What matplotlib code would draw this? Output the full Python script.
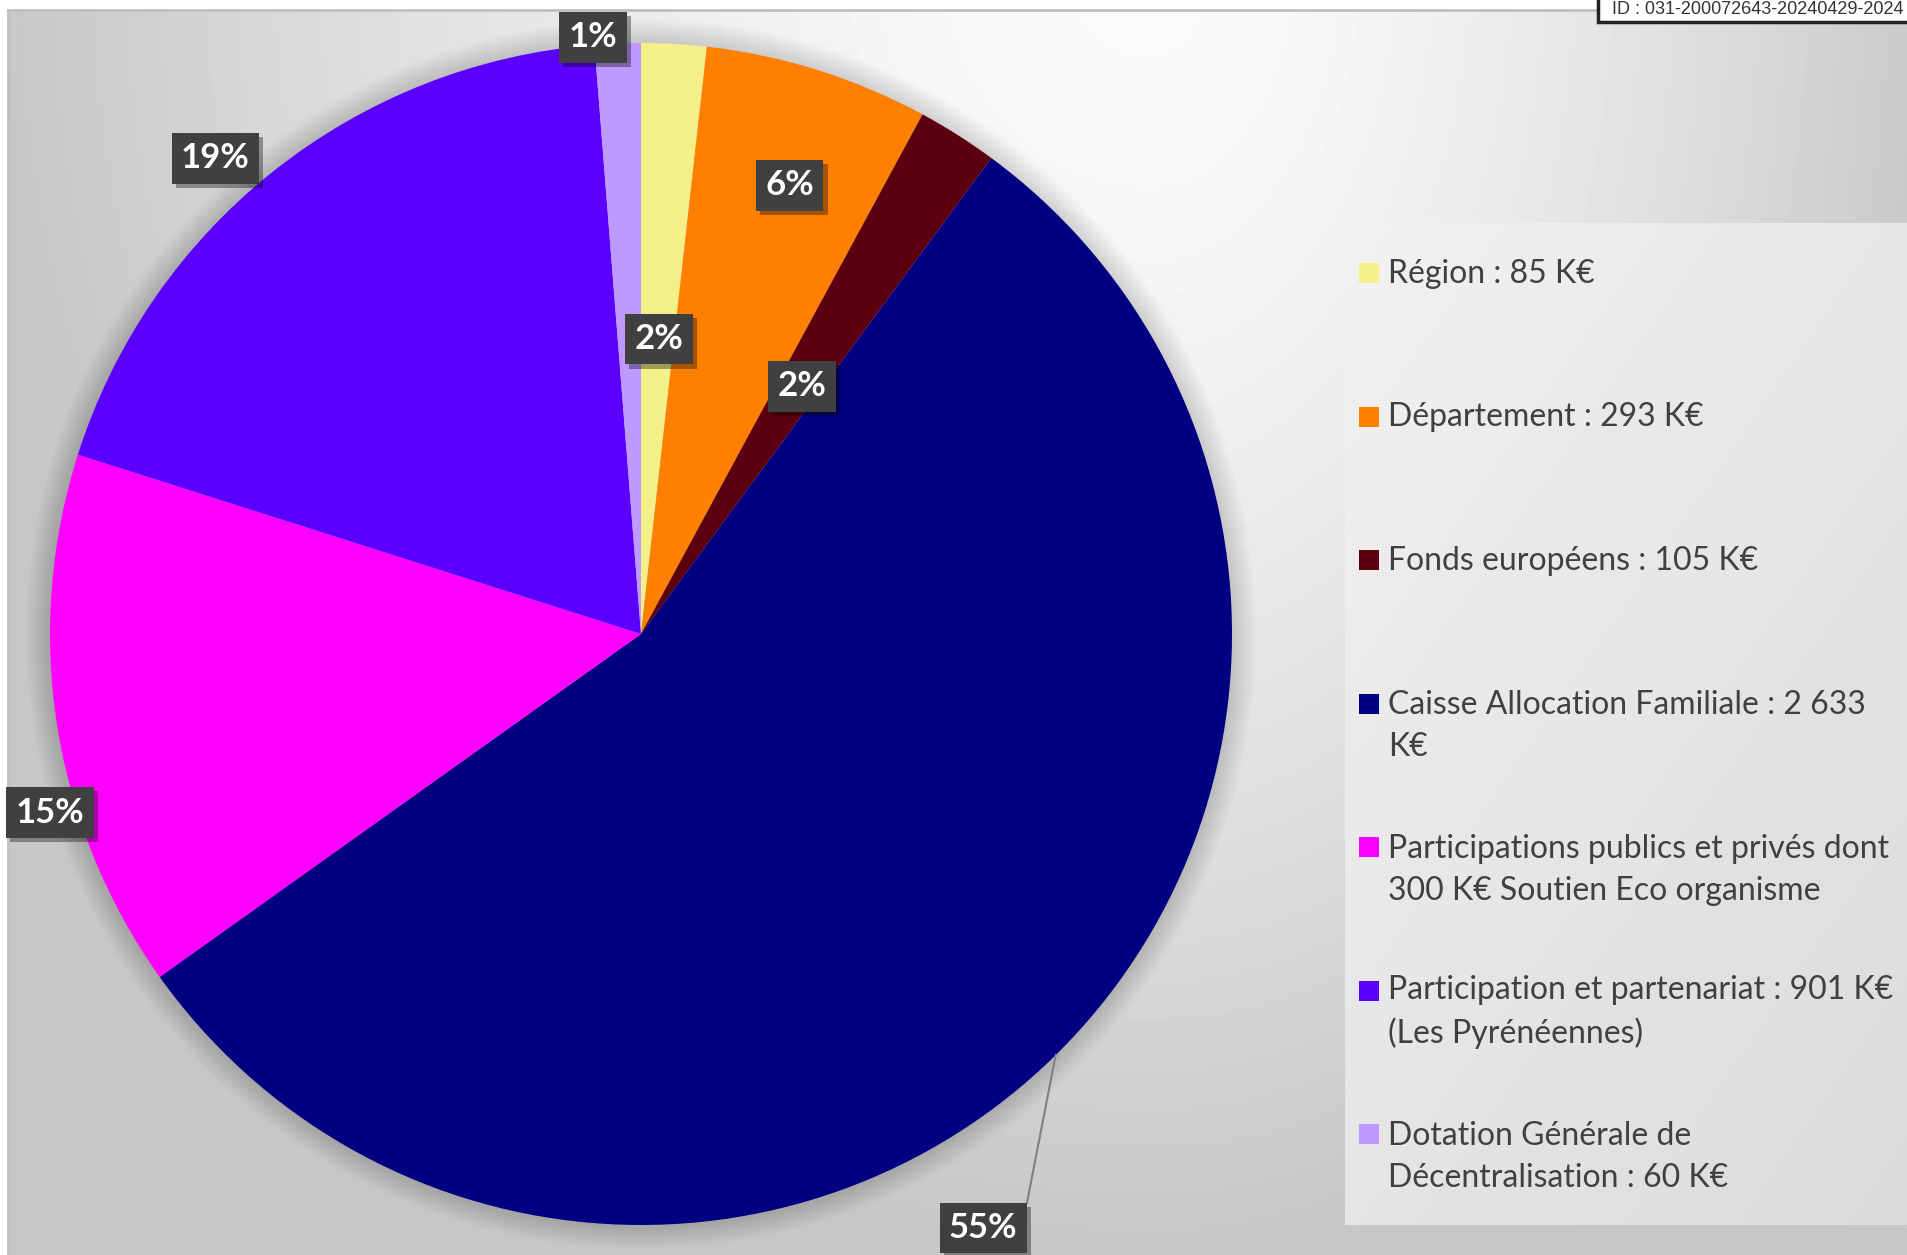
import numpy as np
import matplotlib
matplotlib.use('Agg')
import matplotlib.pyplot as plt
from matplotlib.patches import Rectangle, Circle
import matplotlib.patheffects as pe

# Financement : répartition des recettes (K€)
labels = [
    'Région : 85 K€',
    'Département : 293 K€',
    'Fonds européens : 105 K€',
    'Caisse Allocation Familiale : 2 633\nK€',
    'Participations publics et privés dont\n300 K€ Soutien Eco organisme',
    'Participation et partenariat : 901 K€\n(Les Pyrénéennes)',
    'Dotation Générale de\nDécentralisation : 60 K€',
]
values = [85, 293, 105, 2633, 706, 901, 60]
colors = ['#F5EF88', '#FF8000', '#5C0010', '#000080', '#FF00FF', '#5B00FF', '#BE99FF']

# label placement: radius factor and angular shift (clockwise deg) from wedge middle
label_r = [0.50, 0.80, 0.50, 1.16, 1.045, 1.08, 1.013]
label_shift = [0.3, 0.9, 0.6, 14.6, -7.9, -3.4, -2.35]

W, H = 1908, 1255
fig = plt.figure(figsize=(W / 100, H / 100), dpi=100)
ax = fig.add_axes([0, 0, 1, 1])

# chart area background (soft gradient, light near the top right)
yy, xx = np.mgrid[10:H, 8:W].astype(float)
dx = np.where(xx < 1150, (xx - 1150) / 1150, (xx - 1150) / 800)
dy = (yy + 50) / 1300
d = np.clip(np.sqrt(dx ** 2 + dy ** 2), 0, 1)
bg = 0.985 - 0.205 * d ** 1.5
ax.imshow(bg, extent=[8, W, 0, H - 10], origin='upper', cmap='gray', vmin=0, vmax=1,
          aspect='auto', interpolation='bilinear', zorder=0)
ax.plot([8, W], [H - 10, H - 10], color='#c0c0c0', lw=2, zorder=1)
ax.plot([8, 8], [0, H - 10], color='#c0c0c0', lw=2, zorder=1)

# pie
cx, cy, R = 641, H - 634, 591
for k in range(2, 26, 2):
    ax.add_patch(Circle((cx, cy), R + k, color='black', alpha=0.013, lw=0, zorder=1))
wedges, _ = ax.pie(values, colors=colors, startangle=90, counterclock=False,
                   center=(cx, cy), radius=R, wedgeprops=dict(linewidth=0))
for w in wedges:
    w.set_zorder(2)

total = sum(values)
pct_texts = []
for i, w in enumerate(wedges):
    mid = (w.theta1 + w.theta2) / 2 - label_shift[i]
    a = np.deg2rad(mid)
    x = cx + label_r[i] * R * np.cos(a)
    y = cy + label_r[i] * R * np.sin(a)
    t = ax.text(x, y, f'{values[i] / total * 100:.0f}%', ha='center', va='center',
                fontsize=25, fontweight='bold', color='white', family='Lato', zorder=5,
                bbox=dict(boxstyle='square,pad=0.27', fc='#404040', ec='none'))
    t.get_bbox_patch().set_path_effects([
        pe.withSimplePatchShadow(offset=(3, -3), shadow_rgbFace='black', alpha=0.35)])
    pct_texts.append(t)

# legend panel
ly0, ly1 = 223, 1225
gy, gx = np.mgrid[ly0:ly1, 1345:W].astype(float)
g = 0.945 - 0.09 * ((gx - 1345) / (W - 1345) * 0.45 + (gy - ly0) / (ly1 - ly0) * 0.55)
ax.imshow(g, extent=[1345, W, H - ly1, H - ly0], origin='upper', cmap='gray', vmin=0, vmax=1,
          aspect='auto', interpolation='bilinear', zorder=1)
pitch = 42.6
for i, (lab, col) in enumerate(zip(labels, colors)):
    base = 283 + i * 143.5
    nlines = lab.count('\n') + 1
    ax.add_patch(Rectangle((1359, H - base), 20, 20, color=col, lw=0, zorder=3))
    # baseline alignment refers to the last line of a multi-line text
    ax.text(1388, H - base - (nlines - 1) * pitch, lab, ha='left', va='baseline',
            fontsize=23, family='Lato', color='#404040', linespacing=1.50, zorder=3)

# document stamp, top right
ax.add_patch(Rectangle((1598, H - 22), 400, 60, fc='white', ec='#222222', lw=2.5, zorder=6))
ax.text(1612, H - 14, 'ID : 031-200072643-20240429-2024', ha='left', va='baseline',
        fontsize=13, family='Liberation Sans', color='#333333', zorder=7)

ax.set_xlim(0, W)
ax.set_ylim(0, H)
ax.set_aspect('auto')
ax.axis('off')

# leader line for the outside label of the large slice
fig.canvas.draw()
r = fig.canvas.get_renderer()
big = int(np.argmax(values))
bb = pct_texts[big].get_bbox_patch().get_window_extent(r)
w = wedges[big]
a = np.deg2rad((w.theta1 + w.theta2) / 2)
ax.plot([cx + R * np.cos(a), bb.x1], [cy + R * np.sin(a), bb.y1], color='#808080', lw=1.5, zorder=4)

fig.savefig('out.png', dpi=100, facecolor='white')
